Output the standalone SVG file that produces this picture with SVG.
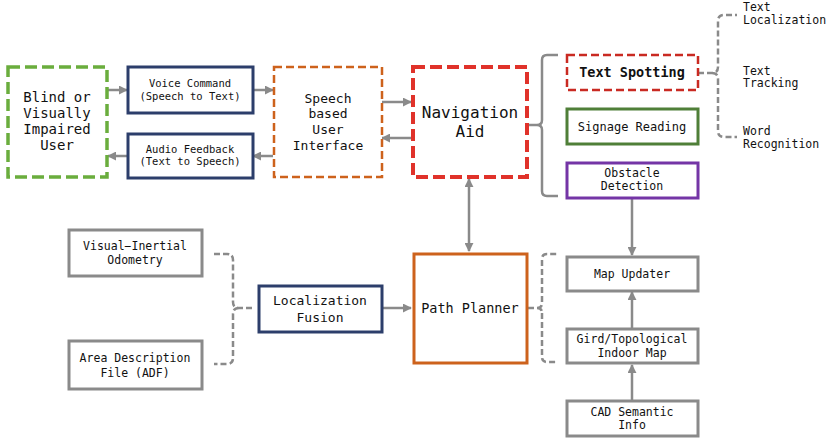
<svg xmlns="http://www.w3.org/2000/svg" width="828" height="440" viewBox="0 0 828 440">
<defs>
<marker id="ah" viewBox="0 0 10 10" refX="9" refY="5" markerWidth="3.6" markerHeight="3.6" orient="auto-start-reverse">
<path d="M0,0 L10,5 L0,10 z" fill="#8a8a8a"/>
</marker>
<style>
text{font-family:"DejaVu Sans Mono","Liberation Mono",monospace;fill:#111;text-anchor:middle}
.lt{text-anchor:start}
.box{fill:#fff}
.con{fill:none;stroke:#8a8a8a;stroke-width:2.5}
.dash{fill:none;stroke:#8a8a8a;stroke-width:2.5;stroke-dasharray:6,3}
.gray{fill:#fff;stroke:#8a8a8a;stroke-width:3}
.navy{fill:#fff;stroke:#2c3e6b;stroke-width:3}
</style>
</defs>
<rect width="828" height="440" fill="#fff"/>

<g id="connectors">
<line class="con" x1="108" y1="90" x2="127" y2="90" marker-end="url(#ah)"/>
<line class="con" x1="127" y1="156" x2="108" y2="156" marker-end="url(#ah)"/>
<line class="con" x1="253" y1="90" x2="273" y2="90" marker-end="url(#ah)"/>
<line class="con" x1="273" y1="156" x2="253" y2="156" marker-end="url(#ah)"/>
<line class="con" x1="382" y1="102" x2="411" y2="102" marker-end="url(#ah)"/>
<line class="con" x1="411" y1="138" x2="382" y2="138" marker-end="url(#ah)"/>
<line class="con" x1="469" y1="179" x2="469" y2="251" marker-start="url(#ah)" marker-end="url(#ah)"/>
<line class="con" x1="382" y1="308" x2="411" y2="308" marker-end="url(#ah)"/>
<line class="con" x1="632" y1="199" x2="632" y2="255" marker-end="url(#ah)"/>
<line class="con" x1="632" y1="328" x2="632" y2="292" marker-end="url(#ah)"/>
<line class="con" x1="632" y1="400" x2="632" y2="365" marker-end="url(#ah)"/>
<path class="con" d="M528,125 H537 Q542,125 542,120 V60 Q542,55 547,55 H558 M542,130 V191 Q542,196 547,196 H558 M537,125 Q542,125 542,130"/>
<path class="dash" d="M698,73 H712 Q718,73 718,67 V21 Q718,15 724,15 H737 M718,79 V131 Q718,137 724,137 H737 M712,73 Q718,73 718,79"/>
<path class="dash" d="M528,308 H537 Q542,308 542,303 V259 Q542,254 547,254 H558 M542,313 V357 Q542,362 547,362 H558 M537,308 Q542,308 542,313"/>
<path class="dash" d="M214,254 H227 Q233,254 233,260 V302 Q233,308 239,308 H252 M233,314 V358 Q233,364 227,364 H214 M239,308 Q233,308 233,314"/>
</g>

<g id="blind"><rect class="box" x="8" y="67" width="99" height="110" stroke="#6aad3d" stroke-width="3.5" stroke-dasharray="12,5"/>
<text font-size="14" x="57" y="102">Blind or</text><text font-size="14" x="57" y="118">Visually</text><text font-size="14" x="57" y="134">Impaired</text><text font-size="14" x="57" y="150">User</text></g>

<g id="voice"><rect class="navy" x="128" y="67" width="125" height="46"/>
<text font-size="10.5" x="190" y="87">Voice Command</text><text font-size="10.5" x="190" y="100">(Speech to Text)</text></g>

<g id="audio"><rect class="navy" x="128" y="134" width="125" height="44"/>
<text font-size="10.5" x="190" y="153">Audio Feedback</text><text font-size="10.5" x="190" y="165">(Text to Speech)</text></g>

<g id="speech"><rect class="box" x="274" y="67" width="108" height="110" stroke="#cd621c" stroke-width="2.5" stroke-dasharray="8,4"/>
<text font-size="13" x="328" y="103">Speech</text><text font-size="13" x="328" y="118">based</text><text font-size="13" x="328" y="134">User</text><text font-size="13" x="328" y="150">Interface</text></g>

<g id="nav"><rect class="box" x="413" y="67" width="114" height="110" stroke="#e0322a" stroke-width="4" stroke-dasharray="12,5"/>
<text font-size="16" x="470" y="118">Navigation</text><text font-size="16" x="470" y="137">Aid</text></g>

<g id="textspotting"><rect class="box" x="567" y="55" width="131" height="35" stroke="#c92a22" stroke-width="2.5" stroke-dasharray="8,4"/>
<text font-size="13.5" font-weight="bold" x="632" y="77">Text Spotting</text></g>

<g id="signage"><rect class="box" x="567" y="109" width="131" height="35" stroke="#4f7f38" stroke-width="3"/>
<text font-size="12" x="632" y="131">Signage Reading</text></g>

<g id="obstacle"><rect class="box" x="567" y="163" width="131" height="35" stroke="#7435a6" stroke-width="3"/>
<text font-size="11.5" x="632" y="177">Obstacle</text><text font-size="11.5" x="632" y="190">Detection</text></g>

<g id="labels">
<text class="lt" font-size="11.5" x="743" y="11">Text</text><text class="lt" font-size="11.5" x="743" y="24">Localization</text>
<text class="lt" font-size="11.5" x="743" y="75">Text</text><text class="lt" font-size="11.5" x="743" y="87">Tracking</text>
<text class="lt" font-size="11.5" x="743" y="135">Word</text><text class="lt" font-size="11.5" x="743" y="148">Recognition</text>
</g>

<g id="vio"><rect class="gray" x="69" y="230" width="133" height="46"/>
<text font-size="11.5" x="135" y="250">Visual−Inertial</text><text font-size="11.5" x="135" y="264">Odometry</text></g>

<g id="adf"><rect class="gray" x="69" y="341" width="133" height="48"/>
<text font-size="11.5" x="135" y="362">Area Description</text><text font-size="11.5" x="135" y="377">File (ADF)</text></g>

<g id="locfusion"><rect class="navy" x="259" y="286" width="123" height="46"/>
<text font-size="13" x="320" y="305">Localization</text><text font-size="13" x="320" y="322">Fusion</text></g>

<g id="pathplanner"><rect class="box" x="414" y="254" width="113" height="109" stroke="#cd621c" stroke-width="3"/>
<text font-size="13.5" x="470" y="313">Path Planner</text></g>

<g id="mapupdater"><rect class="gray" x="567" y="257" width="131" height="34"/>
<text font-size="11.5" x="632" y="278">Map Updater</text></g>

<g id="indoormap"><rect class="gray" x="567" y="329" width="131" height="34"/>
<text font-size="11.5" x="632" y="343">Gird/Topological</text><text font-size="11.5" x="632" y="357">Indoor Map</text></g>

<g id="cad"><rect class="gray" x="567" y="401" width="131" height="35"/>
<text font-size="11.5" x="632" y="416">CAD Semantic</text><text font-size="11.5" x="632" y="429">Info</text></g>
</svg>
